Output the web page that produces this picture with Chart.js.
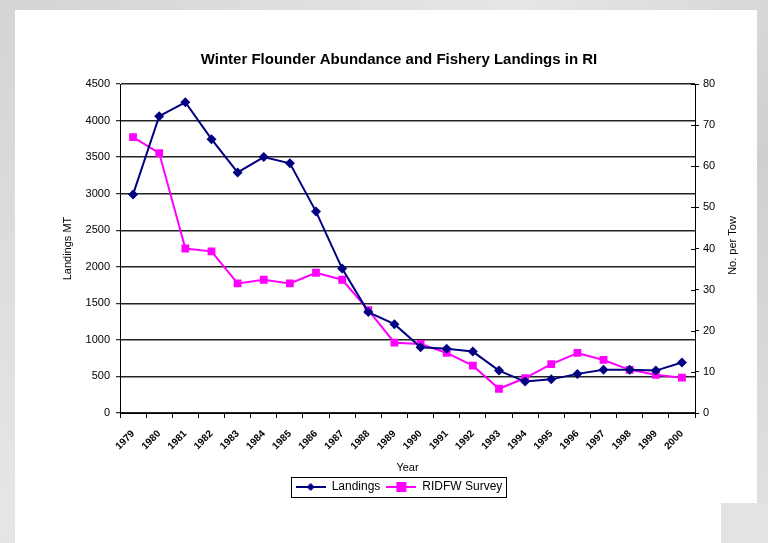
<!DOCTYPE html>
<html>
<head>
<meta charset="utf-8">
<title>Winter Flounder Abundance and Fishery Landings in RI</title>
<script src="https://cdn.jsdelivr.net/npm/chart.js@4.4.1/dist/chart.umd.min.js"></script>
<style>
  html, body { margin: 0; padding: 0; }
  body {
    width: 768px; height: 543px; overflow: hidden; position: relative;
    background: linear-gradient(135deg, #d4d4d4 0%, #e6e6e6 40%, #cfcfcf 70%, #e2e2e2 100%);
  }
  #card { position: absolute; left: 15px; top: 10px; width: 742px; height: 533px; background: #fff; }
  #corner { position: absolute; left: 721px; top: 503px; width: 47px; height: 40px; background: #e3e3e3; }
  #chart { position: absolute; left: 0; top: 0; }
</style>
</head>
<body>
<div id="card"></div>
<div id="corner"></div>
<canvas id="chart" width="768" height="543"></canvas>
<script>
// 数据
const years = ['1979', '1980', '1981', '1982', '1983', '1984', '1985', '1986', '1987', '1988', '1989',
    '1990', '1991', '1992', '1993', '1994', '1995', '1996', '1997', '1998', '1999', '2000'];
const landings = [2990, 4060, 4250, 3745, 3290, 3500, 3415, 2755, 1975, 1380, 1215,
    900, 880, 840, 580, 430, 460, 535, 590, 590, 580, 690];
const survey = [67.1, 63.2, 40, 39.3, 31.5, 32.4, 31.5, 34.1, 32.4, 25, 17.1,
    16.8, 14.6, 11.5, 5.9, 8.5, 11.9, 14.6, 12.9, 10.5, 9.3, 8.6];
const leftTicks = { min: 0, max: 4500, step: 500 };
const rightTicks = { min: 0, max: 80, step: 10 };

const NAVY = '#000080';
const MAGENTA = '#FF00FF';
const FONT = 'Arial, "Liberation Sans", sans-serif';
const RIGHT_TITLE = 'No. per Tow';

// 图例图标: 线 + 标记
function makeIcon(color, style) {
    const c = document.createElement('canvas');
    c.width = 30; c.height = 12;
    const g = c.getContext('2d');
    g.strokeStyle = color;
    g.fillStyle = color;
    g.lineWidth = 2;
    g.beginPath();
    g.moveTo(0, 6); g.lineTo(30, 6);
    g.stroke();
    if (style === 'diamond') {
        g.beginPath();
        g.moveTo(15, 2); g.lineTo(19, 6); g.lineTo(15, 10); g.lineTo(11, 6);
        g.closePath(); g.fill();
    } else {
        g.fillRect(10, 1, 10, 10);
    }
    return c;
}
const legendIcons = [makeIcon(NAVY, 'diamond'), makeIcon(MAGENTA, 'square')];

// 图例外框 + 右轴标题 (从下往上读) + 右轴内侧刻度
const extras = {
    id: 'extras',
    afterDraw(chart) {
        const ctx = chart.ctx;
        ctx.save();

        const boxes = chart.legend.legendHitBoxes;
        if (boxes && boxes.length) {
            let l = Infinity, r = -Infinity, t = Infinity, b = -Infinity;
            boxes.forEach(bx => {
                l = Math.min(l, bx.left); r = Math.max(r, bx.left + bx.width);
                t = Math.min(t, bx.top); b = Math.max(b, bx.top + bx.height);
            });
            ctx.strokeStyle = '#000';
            ctx.lineWidth = 1;
            ctx.strokeRect(Math.round(l - 5) + 0.5, Math.round(t - 4) + 0.5, Math.round(r - l + 8), Math.round(b - t + 8));
        }

        const y1 = chart.scales.y1;
        ctx.strokeStyle = '#000';
        ctx.lineWidth = 1;
        y1.ticks.forEach((tk, i) => {
            const py = Math.round(y1.getPixelForTick(i)) + 0.5;
            ctx.beginPath();
            ctx.moveTo(y1.left - 4, py);
            ctx.lineTo(y1.left, py);
            ctx.stroke();
        });

        ctx.fillStyle = '#000';
        ctx.font = '11px ' + FONT;
        ctx.textAlign = 'center';
        ctx.textBaseline = 'middle';
        ctx.translate(733, (chart.chartArea.top + chart.chartArea.bottom) / 2 - 3);
        ctx.rotate(-Math.PI / 2);
        ctx.fillText(RIGHT_TITLE, 0, 0);
        ctx.restore();
    }
};

const ctx = document.getElementById('chart').getContext('2d');
new Chart(ctx, {
    type: 'line',
    data: {
        labels: years,
        datasets: [{
            label: 'Landings',
            data: landings,
            yAxisID: 'y',
            borderColor: NAVY,
            backgroundColor: NAVY,
            borderWidth: 2,
            pointStyle: 'rectRot',
            pointRadius: 5,
            pointBorderWidth: 0,
            tension: 0
        }, {
            label: 'RIDFW Survey',
            data: survey,
            yAxisID: 'y1',
            borderColor: MAGENTA,
            backgroundColor: MAGENTA,
            borderWidth: 2,
            pointStyle: 'rect',
            pointRadius: 5.5,
            pointBorderWidth: 0,
            tension: 0
        }]
    },
    options: {
        responsive: false,
        animation: false,
        layout: { padding: { left: 50, right: 20, top: 0, bottom: 40 } },
        plugins: {
            title: {
                display: true,
                text: 'Winter Flounder Abundance and Fishery Landings in RI',
                color: '#000',
                font: { family: FONT, size: 15, weight: 'bold' },
                padding: { top: 51, bottom: 15 }
            },
            legend: {
                position: 'bottom',
                labels: {
                    color: '#000',
                    font: { family: FONT, size: 12 },
                    usePointStyle: true,
                    pointStyleWidth: 30,
                    padding: 6,
                    generateLabels(chart) {
                        const items = Chart.defaults.plugins.legend.labels.generateLabels(chart);
                        items.forEach((it, i) => { it.pointStyle = legendIcons[i]; });
                        return items;
                    }
                }
            },
            tooltip: { enabled: false }
        },
        scales: {
            x: {
                offset: true,
                afterFit(scale) { scale.height = 62; },
                grid: {
                    offset: true,
                    drawOnChartArea: false,
                    drawTicks: true,
                    tickLength: 5,
                    color: '#000'
                },
                border: { color: '#000', width: 1 },
                ticks: {
                    color: '#000',
                    font: { family: FONT, size: 10, weight: 'bold' },
                    minRotation: 45,
                    maxRotation: 45,
                    autoSkip: false,
                    padding: 10
                },
                title: {
                    display: true,
                    text: 'Year',
                    color: '#000',
                    font: { family: FONT, size: 11 },
                    padding: { top: 0, bottom: 0 }
                }
            },
            y: {
                position: 'left',
                min: leftTicks.min,
                max: leftTicks.max,
                afterFit(scale) { scale.width = 70; },
                grid: {
                    color: '#222',
                    lineWidth: 1.4,
                    drawTicks: true,
                    tickLength: 4,
                    tickColor: '#000',
                    tickWidth: 1
                },
                border: { color: '#000', width: 1 },
                ticks: {
                    stepSize: leftTicks.step,
                    color: '#000',
                    font: { family: FONT, size: 11 },
                    padding: 6,
                    callback: v => String(v)
                },
                title: {
                    display: true,
                    text: 'Landings MT',
                    color: '#000',
                    font: { family: FONT, size: 11 },
                    padding: { top: 11, bottom: 0 }
                }
            },
            y1: {
                position: 'right',
                min: rightTicks.min,
                max: rightTicks.max,
                afterFit(scale) { scale.width = 53; },
                grid: {
                    drawOnChartArea: false,
                    drawTicks: true,
                    tickLength: 4,
                    color: '#000'
                },
                border: { color: '#000', width: 1 },
                ticks: {
                    stepSize: rightTicks.step,
                    color: '#000',
                    font: { family: FONT, size: 11 },
                    padding: 4,
                    callback: v => String(v)
                },
                title: { display: false }
            }
        }
    },
    plugins: [extras]
});
</script>
</body>
</html>
